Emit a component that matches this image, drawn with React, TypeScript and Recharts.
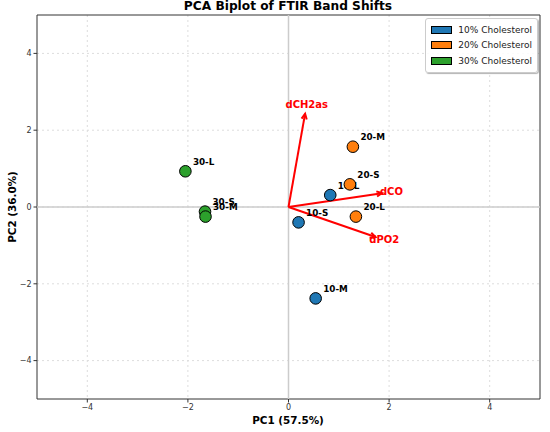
import React from "react";
import {
  ScatterChart,
  Scatter,
  XAxis,
  YAxis,
  CartesianGrid,
  ReferenceLine,
  ReferenceArea,
} from "recharts";

const groups = ["10% Cholesterol", "20% Cholesterol", "30% Cholesterol"];
const groupColors = ["#1f77b4", "#ff7f0e", "#2ca02c"];

const samples10 = [
  { name: "10-S", x: 0.2, y: -0.4 },
  { name: "10-M", x: 0.54, y: -2.38 },
  { name: "10-L", x: 0.83, y: 0.31 },
];
const samples20 = [
  { name: "20-S", x: 1.22, y: 0.59 },
  { name: "20-M", x: 1.28, y: 1.57 },
  { name: "20-L", x: 1.34, y: -0.25 },
];
const samples30 = [
  { name: "30-S", x: -1.66, y: -0.12 },
  { name: "30-M", x: -1.65, y: -0.25 },
  { name: "30-L", x: -2.05, y: 0.93 },
];
const sampleSets = [samples10, samples20, samples30];

const loadings = [
  { name: "dCH2as", x: 0.33, y: 2.43 },
  { name: "dCO", x: 1.86, y: 0.36 },
  { name: "dPO2", x: 1.73, y: -0.78 },
];

const ticks = [-4, -2, 0, 2, 4];
const font = "'DejaVu Sans', sans-serif";

const fmt = (v: number) => (v < 0 ? "\u2212" + Math.abs(v) : String(v));

const Arrow = (props: any) => {
  const { x1, y1, x2, y2 } = props;
  const a = Math.atan2(y2 - y1, x2 - x1);
  const h = 6;
  const s = 0.45;
  return (
    <g>
      <line x1={x1} y1={y1} x2={x2} y2={y2} stroke="red" strokeWidth={2} />
      <polyline
        points={`${x2 - h * Math.cos(a - s)},${y2 - h * Math.sin(a - s)} ${x2},${y2} ${x2 - h * Math.cos(a + s)},${y2 - h * Math.sin(a + s)}`}
        fill="none"
        stroke="red"
        strokeWidth={2}
      />
    </g>
  );
};

const makeDot = (color: string) => (props: any) => {
  const { cx, cy, payload } = props;
  return (
    <g>
      <circle cx={cx} cy={cy} r={5.8} fill={color} stroke="#000" strokeWidth={1} />
      <text
        x={cx + 7.5}
        y={cy - 9.5}
        dy="0.35em"
        fontFamily={font}
        fontSize={8.8}
        fontWeight="bold"
        fill="#000"
      >
        {payload.name}
      </text>
    </g>
  );
};

const LoadingLabel = (props: any) => {
  const { cx, cy, payload } = props;
  return (
    <text
      x={cx}
      y={cy}
      dy="0.35em"
      textAnchor="middle"
      fontFamily={font}
      fontSize={10}
      fontWeight="bold"
      fill="red"
    >
      {payload.name}
    </text>
  );
};

const LegendBox = () => (
  <div
    style={{
      position: "absolute",
      top: 18,
      right: 12,
      border: "1px solid #ccc",
      borderRadius: 3,
      background: "rgba(255,255,255,0.85)",
      padding: "3px 5px 3px 5px",
      fontFamily: font,
      fontSize: 9,
      boxShadow: "1px 1px 1px rgba(0,0,0,0.3)",
    }}
  >
    {groups.map((g, i) => (
      <div key={g} style={{ display: "flex", alignItems: "center", height: 15.5 }}>
        <span
          style={{
            display: "inline-block",
            width: 19,
            height: 6,
            background: groupColors[i],
            border: "1px solid #000",
            marginRight: 6,
          }}
        />
        <span style={{ color: "#222" }}>{g}</span>
      </div>
    ))}
  </div>
);

export default function App() {
  const labelPoints = loadings.map((l) => ({ name: l.name, x: l.x * 1.1, y: l.y * 1.1 }));
  return (
    <div style={{ position: "absolute", left: 0, top: 0, width: 550, height: 432, background: "#fff" }}>
      <ScatterChart width={550} height={432} margin={{ top: 15, right: 10, bottom: 0, left: 0 }}>
        <CartesianGrid
          stroke="#ddd"
          strokeDasharray="2 3"
          verticalValues={ticks}
          horizontalValues={ticks}
        />
        <XAxis
          type="number"
          dataKey="x"
          domain={[-5, 5]}
          ticks={ticks}
          tickFormatter={fmt}
          height={33}
          axisLine={false}
          tickSize={3.5}
          tick={{ fontFamily: font, fontSize: 8, fill: "#333" }}
          stroke="#333"
          allowDataOverflow
        />
        <YAxis
          type="number"
          dataKey="y"
          domain={[-5, 5]}
          ticks={ticks}
          tickFormatter={fmt}
          width={37}
          axisLine={false}
          tickSize={3.5}
          tick={{ fontFamily: font, fontSize: 8, fill: "#333" }}
          stroke="#333"
          allowDataOverflow
        />
        <ReferenceLine x={0} stroke="#ccc" strokeWidth={1.5} />
        <ReferenceLine y={0} stroke="#ccc" strokeWidth={1.5} />
        <ReferenceArea x1={-5} x2={5} y1={-5} y2={5} fill="none" stroke="#333" strokeWidth={1} fillOpacity={0} />
        {loadings.map((l) => (
          <ReferenceLine
            key={l.name}
            segment={[
              { x: 0, y: 0 },
              { x: l.x, y: l.y },
            ]}
            shape={Arrow}
          />
        ))}
        {sampleSets.map((set, i) => (
          <Scatter
            key={groups[i]}
            name={groups[i]}
            data={set}
            fill={groupColors[i]}
            shape={makeDot(groupColors[i])}
            isAnimationActive={false}
          />
        ))}
        <Scatter name="loadings" data={labelPoints} shape={LoadingLabel} isAnimationActive={false} />
        <text x={288} y={6} dy="0.35em" textAnchor="middle" fontFamily={font} fontSize={12.2} fontWeight="bold" fill="#000">
          PCA Biplot of FTIR Band Shifts
        </text>
        <text x={288} y={420} dy="0.35em" textAnchor="middle" fontFamily={font} fontSize={10.4} fontWeight="bold" fill="#000">
          PC1 (57.5%)
        </text>
        <text
          x={12}
          y={207}
          dy="0.35em"
          textAnchor="middle"
          fontFamily={font}
          fontSize={10.4}
          fontWeight="bold"
          fill="#000"
          transform="rotate(-90 12 207)"
        >
          PC2 (36.0%)
        </text>
      </ScatterChart>
      <LegendBox />
    </div>
  );
}
